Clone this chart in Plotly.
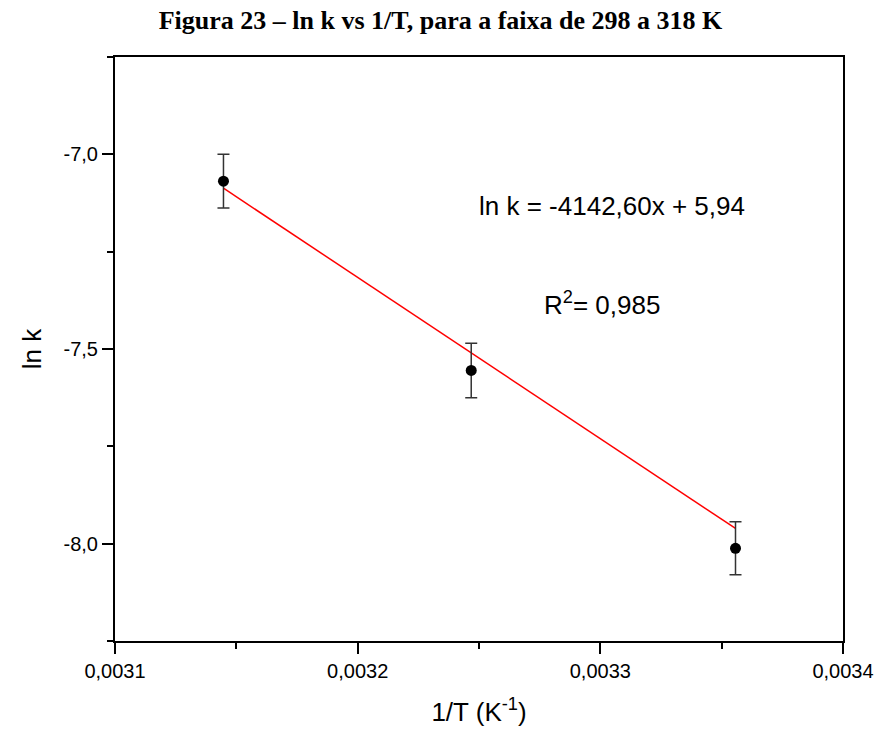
import plotly.graph_objects as go

# data
inv_T = [0.0031447, 0.0032468, 0.0033557]
ln_k = [-7.069, -7.555, -8.012]
ln_k_err = [0.069, 0.070, 0.068]
fit_x = [0.0031447, 0.0033557]
fit_y = [-7.087, -7.961]

x_tickvals = [0.0031, 0.0032, 0.0033, 0.0034]
x_ticktext = ["0,0031", "0,0032", "0,0033", "0,0034"]
y_tickvals = [-8.0, -7.5, -7.0]
y_ticktext = ["-8,0", "-7,5", "-7,0"]

fig = go.Figure()
fig.add_trace(go.Scatter(
    x=fit_x, y=fit_y, mode="lines",
    line=dict(color="#ff0000", width=1.5), showlegend=False, hoverinfo="skip"))
fig.add_trace(go.Scatter(
    x=inv_T, y=ln_k, mode="markers",
    marker=dict(color="black", size=11),
    error_y=dict(type="data", array=ln_k_err, color="#333333", thickness=1.5, width=6),
    showlegend=False))

fig.add_annotation(x=0.0032492, y=-7.133, xref="x", yref="y", xanchor="left", yanchor="middle",
                   text="ln k = -4142,60x + 5,94", showarrow=False,
                   font=dict(family="Liberation Sans, Arial", size=26, color="black"))
fig.add_annotation(x=0.0032759, y=-7.382, xref="x", yref="y", xanchor="left", yanchor="middle",
                   text="R<sup>2</sup>= 0,985", showarrow=False,
                   font=dict(family="Liberation Sans, Arial", size=26, color="black"))

axis_common = dict(showgrid=False, zeroline=False, showline=True, linecolor="black", linewidth=2,
                   mirror=True, ticks="outside", ticklen=11, tickwidth=2, tickcolor="black",
                   automargin=False,
                   tickfont=dict(family="Liberation Sans, Arial", size=20, color="black"))

fig.update_xaxes(range=[0.0031, 0.0034], tickvals=x_tickvals, ticktext=x_ticktext,
                 minor=dict(ticks="outside", ticklen=6, tickwidth=2, tickcolor="black", dtick=0.00005),
                 title=dict(text="1/T (K<sup>-1</sup>)", standoff=22,
                            font=dict(family="Liberation Sans, Arial", size=26, color="black")),
                 **axis_common)
fig.update_yaxes(range=[-8.25, -6.75], tickvals=y_tickvals, ticktext=y_ticktext,
                 minor=dict(ticks="outside", ticklen=6, tickwidth=2, tickcolor="black", dtick=0.25),
                 title=dict(text="ln k", standoff=14,
                            font=dict(family="Liberation Sans, Arial", size=26, color="black")),
                 **axis_common)

fig.update_layout(
    width=881, height=731,
    margin=dict(l=115, r=38, t=57, b=90),
    paper_bgcolor="white", plot_bgcolor="white",
    title=dict(text="<b>Figura 23 – ln k vs 1/T, para a faixa de 298 a 318 K</b>",
               x=0.5, xref="container", xanchor="center",
               y=1 - 20 / 731, yref="container", yanchor="middle",
               font=dict(family="Liberation Serif, Times New Roman", size=26, color="black")),
)

fig.write_html("out.html")
